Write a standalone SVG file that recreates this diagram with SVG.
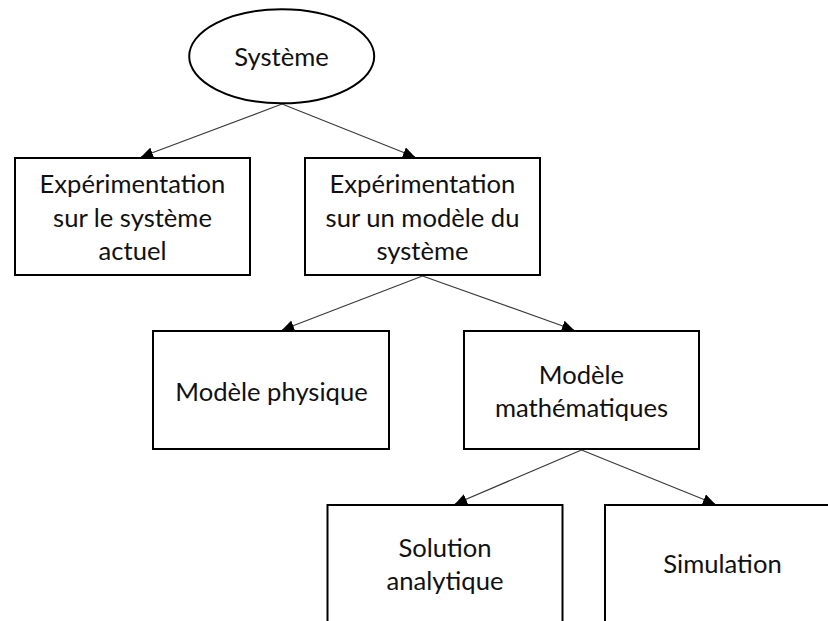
<svg xmlns="http://www.w3.org/2000/svg" width="828" height="621" viewBox="0 0 828 621">
  <style>
    .box { fill: #ffffff; stroke: #000000; stroke-width: 2; }
    .lbl { font-family: Lato, "Liberation Sans", sans-serif; font-size: 25.6px; fill: #111111; text-anchor: middle; }
    .conn { stroke: #3a3a3a; stroke-width: 1.2; fill: none; marker-end: url(#arrow); }
  </style>
  <defs>
    <marker id="arrow" markerUnits="userSpaceOnUse" markerWidth="13" markerHeight="11" refX="12" refY="5.5" orient="auto">
      <path d="M0,0 L12,5.5 L0,11 Z" fill="#000000"/>
    </marker>
  </defs>
  <rect x="0" y="0" width="828" height="621" fill="#ffffff"/>

  <g id="connectors">
    <line class="conn" x1="282" y1="104" x2="141" y2="157"/>
    <line class="conn" x1="282" y1="104" x2="415" y2="157"/>
    <line class="conn" x1="422.5" y1="276" x2="282" y2="330"/>
    <line class="conn" x1="422.5" y1="276" x2="574" y2="330"/>
    <line class="conn" x1="581.5" y1="450" x2="455" y2="504"/>
    <line class="conn" x1="581.5" y1="450" x2="715" y2="504"/>
  </g>

  <g id="systeme">
    <ellipse cx="281.7" cy="56.3" rx="92.5" ry="47" fill="#ffffff" stroke="#000000" stroke-width="2"/>
    <text class="lbl" x="281.5" y="65.5">Système</text>
  </g>

  <g id="experimentation-actuel">
    <rect class="box" x="15" y="158" width="235" height="117"/>
    <text class="lbl" x="132.5" y="193">Expérimentation</text>
    <text class="lbl" x="132.5" y="226.5">sur le système</text>
    <text class="lbl" x="132.5" y="260">actuel</text>
  </g>

  <g id="experimentation-modele">
    <rect class="box" x="305" y="158" width="235" height="117"/>
    <text class="lbl" x="422.5" y="193">Expérimentation</text>
    <text class="lbl" x="422.5" y="226.5">sur un modèle du</text>
    <text class="lbl" x="422.5" y="260">système</text>
  </g>

  <g id="modele-physique">
    <rect class="box" x="153" y="331" width="236" height="118"/>
    <text class="lbl" x="271.5" y="401">Modèle physique</text>
  </g>

  <g id="modele-mathematiques">
    <rect class="box" x="464" y="331" width="235" height="118"/>
    <text class="lbl" x="581.5" y="384">Modèle</text>
    <text class="lbl" x="581.5" y="416.5">mathématiques</text>
  </g>

  <g id="solution-analytique">
    <rect class="box" x="327.5" y="505" width="235" height="130"/>
    <text class="lbl" x="445" y="557">Solution</text>
    <text class="lbl" x="445" y="590">analytique</text>
  </g>

  <g id="simulation">
    <rect class="box" x="605" y="505" width="236" height="130"/>
    <text class="lbl" x="722.5" y="573">Simulation</text>
  </g>
</svg>
